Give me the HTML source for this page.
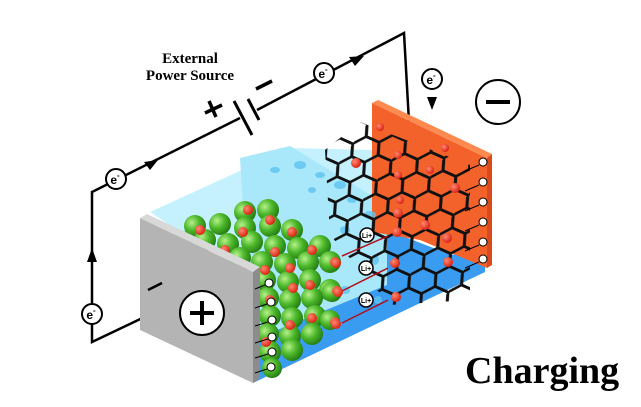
<!DOCTYPE html>
<html><head><meta charset="utf-8"><style>
html,body{margin:0;padding:0;background:#fff;width:641px;height:407px;overflow:hidden}
svg{display:block}
</style></head><body>
<svg width="641" height="407" viewBox="0 0 641 407" xmlns="http://www.w3.org/2000/svg">
<defs>
<radialGradient id="g" cx="0.35" cy="0.35" r="0.7"><stop offset="0" stop-color="#b6f08a"/><stop offset="0.5" stop-color="#4cb82a"/><stop offset="1" stop-color="#237a12"/></radialGradient>
<radialGradient id="r" cx="0.35" cy="0.35" r="0.7"><stop offset="0" stop-color="#ff8a70"/><stop offset="1" stop-color="#d81d10"/></radialGradient>
<pattern id="hex" width="42" height="24.2" patternUnits="userSpaceOnUse" patternTransform="rotate(24) skewX(-12)">
<path d="M0,12.1 L7,0 L21,0 L28,12.1 L21,24.2 L7,24.2 Z M28,12.1 L42,12.1" fill="none" stroke="#111" stroke-width="2.8"/>
</pattern>
<clipPath id="hc"><polygon points="325,150 360,122 470,165 470,300 390,305 330,235"/></clipPath>
</defs>

<!-- circuit -->
<g stroke="#000" stroke-width="2.5" fill="none">
<polyline points="155,312 92,342 92,192 240,118"/>
<polyline points="257,110 404,33 410,140"/>
</g>
<polygon points="92,248 87,262 97,262" fill="#000"/>
<polygon points="158,160 144,162 150,170" fill="#000"/>
<polygon points="364,56 349,57 355,66" fill="#000"/>
<polygon points="427,97 437,97 432,110" fill="#000"/>
<!-- battery -->
<line x1="234" y1="101" x2="252" y2="135" stroke="#000" stroke-width="3"/>
<line x1="248" y1="99" x2="259" y2="120" stroke="#000" stroke-width="3"/>
<line x1="205" y1="113" x2="222" y2="105" stroke="#000" stroke-width="3.5"/>
<line x1="209" y1="101" x2="216" y2="117" stroke="#000" stroke-width="3.5"/>
<line x1="256" y1="89" x2="272" y2="81" stroke="#000" stroke-width="3.5"/>
<text x="190" y="63" font-family="Liberation Serif,serif" font-weight="bold" font-size="15" text-anchor="middle">External</text>
<text x="190" y="80" font-family="Liberation Serif,serif" font-weight="bold" font-size="15" text-anchor="middle">Power Source</text>
<g font-family="Liberation Sans,sans-serif" font-weight="bold" font-size="12" text-anchor="middle">
<circle cx="116" cy="179" r="10" fill="#fff" stroke="#000" stroke-width="2"/><text x="115" y="184">e<tspan font-size="8" dy="-6">-</tspan></text>
<circle cx="324" cy="73" r="10" fill="#fff" stroke="#000" stroke-width="2"/><text x="323" y="78">e<tspan font-size="8" dy="-6">-</tspan></text>
<circle cx="432" cy="79" r="10" fill="#fff" stroke="#000" stroke-width="2"/><text x="431" y="84">e<tspan font-size="8" dy="-6">-</tspan></text>
<circle cx="92" cy="314" r="10" fill="#fff" stroke="#000" stroke-width="2"/><text x="91" y="319">e<tspan font-size="8" dy="-6">-</tspan></text>
</g>
<circle cx="498" cy="102" r="22" fill="#fff" stroke="#000" stroke-width="2"/>
<rect x="486" y="100" width="24" height="4" fill="#000"/>

<!-- cell body -->
<polygon points="150,212 290,148 372,150 372,232 253,280" fill="#c4f1fd"/>
<polygon points="240,158 290,146 387,205 387,315 253,375" fill="#a9e7fa"/>
<polygon points="253,383 253,340 387,285 485,240 485,272" fill="#3a9cf0"/>
<polygon points="387,230 485,268 485,272 387,315" fill="#3a9cf0"/>
<polygon points="372,103 487,158 487,268 420,240 372,232" fill="#f4622b"/>
<polygon points="372,103 378,100 492,154 487,158" fill="#ff8a50"/>
<polygon points="487,158 492,154 492,265 487,268" fill="#d94a1c"/>
<!-- separator bubbles -->
<g fill="#5fc3ef" opacity="0.8">
<ellipse cx="300" cy="165" rx="6" ry="4"/><ellipse cx="320" cy="175" rx="5" ry="3"/><ellipse cx="340" cy="185" rx="6" ry="4"/>
<ellipse cx="352" cy="200" rx="5" ry="3"/><ellipse cx="312" cy="190" rx="4" ry="3"/><ellipse cx="370" cy="215" rx="6" ry="4"/>
<ellipse cx="345" cy="230" rx="5" ry="4"/><ellipse cx="375" cy="260" rx="4" ry="5"/><ellipse cx="345" cy="290" rx="5" ry="4"/>
<ellipse cx="378" cy="300" rx="4" ry="4"/><ellipse cx="335" cy="320" rx="4" ry="3"/><ellipse cx="275" cy="170" rx="5" ry="3"/>
</g>
<!-- graphite -->
<rect x="320" y="120" width="155" height="190" fill="url(#hex)" clip-path="url(#hc)"/>
<g fill="url(#r)">
<circle cx="356" cy="163" r="5"/><circle cx="398" cy="155" r="4"/><circle cx="398" cy="175" r="4"/><circle cx="400" cy="200" r="4"/>
<circle cx="398" cy="213" r="5"/><circle cx="397" cy="232" r="5"/><circle cx="425" cy="225" r="5"/><circle cx="455" cy="188" r="5"/>
<circle cx="447" cy="238" r="5"/><circle cx="448" cy="262" r="5"/><circle cx="395" cy="263" r="5"/><circle cx="396" cy="297" r="5"/>
<circle cx="430" cy="170" r="4"/><circle cx="445" cy="148" r="4"/><circle cx="380" cy="127" r="4"/>
</g>
<!-- green balls -->
<g fill="url(#g)">
<circle cx="245" cy="212" r="11"/><circle cx="268" cy="210" r="11"/>
<circle cx="195" cy="226" r="11"/><circle cx="220" cy="224" r="11"/><circle cx="245" cy="228" r="11"/><circle cx="270" cy="226" r="11"/><circle cx="292" cy="230" r="11"/>
<circle cx="160" cy="240" r="11"/><circle cx="182" cy="242" r="11"/><circle cx="205" cy="240" r="11"/><circle cx="228" cy="244" r="11"/><circle cx="252" cy="242" r="11"/><circle cx="275" cy="246" r="11"/><circle cx="298" cy="248" r="11"/><circle cx="320" cy="246" r="11"/>
<circle cx="240" cy="258" r="11"/><circle cx="262" cy="262" r="11"/><circle cx="285" cy="264" r="11"/><circle cx="308" cy="262" r="11"/><circle cx="330" cy="262" r="11"/>
<circle cx="265" cy="280" r="11"/><circle cx="288" cy="282" r="11"/><circle cx="310" cy="280" r="11"/><circle cx="330" cy="290" r="11"/>
<circle cx="268" cy="298" r="11"/><circle cx="290" cy="300" r="11"/><circle cx="312" cy="298" r="11"/><circle cx="332" cy="292" r="10"/>
<circle cx="270" cy="316" r="11"/><circle cx="292" cy="318" r="11"/><circle cx="315" cy="316" r="11"/><circle cx="330" cy="320" r="10"/>
<circle cx="268" cy="334" r="11"/><circle cx="290" cy="336" r="11"/><circle cx="312" cy="334" r="11"/>
<circle cx="270" cy="352" r="11"/><circle cx="292" cy="350" r="11"/><circle cx="272" cy="368" r="10"/>
</g>
<g fill="url(#r)">
<circle cx="248" cy="210" r="5"/><circle cx="270" cy="220" r="5"/><circle cx="200" cy="230" r="5"/><circle cx="243" cy="232" r="5"/>
<circle cx="292" cy="232" r="5"/><circle cx="312" cy="250" r="5"/><circle cx="225" cy="250" r="5"/><circle cx="275" cy="252" r="5"/>
<circle cx="245" cy="265" r="5"/><circle cx="265" cy="270" r="5"/><circle cx="290" cy="268" r="5"/><circle cx="335" cy="262" r="5"/>
<circle cx="310" cy="285" r="5"/><circle cx="293" cy="288" r="5"/><circle cx="337" cy="291" r="5"/><circle cx="312" cy="318" r="5"/>
<circle cx="290" cy="325" r="5"/><circle cx="335" cy="322" r="5"/><circle cx="266" cy="342" r="5"/><circle cx="270" cy="300" r="5"/>
</g>
<!-- Li+ arrows -->
<g stroke="#b0101a" stroke-width="1.5" fill="#b0101a">
<line x1="342" y1="256" x2="388" y2="236"/><line x1="340" y1="292" x2="388" y2="268"/><line x1="342" y1="323" x2="388" y2="300"/>
</g>
<g fill="url(#r)"><circle cx="336" cy="263" r="5"/><circle cx="338" cy="292" r="5"/><circle cx="336" cy="324" r="5"/></g>
<g font-family="Liberation Sans,sans-serif" font-weight="bold" font-size="7" text-anchor="middle">
<circle cx="367" cy="235" r="7" fill="#fff" stroke="#000" stroke-width="1.5"/><text x="367" y="238">Li+</text>
<circle cx="366" cy="268" r="7" fill="#fff" stroke="#000" stroke-width="1.5"/><text x="366" y="271">Li+</text>
<circle cx="366" cy="300" r="7" fill="#fff" stroke="#000" stroke-width="1.5"/><text x="366" y="303">Li+</text>
</g>
<!-- gray plate -->
<polygon points="140,218 253,272 253,383 140,330" fill="#b4b4b4"/>
<polygon points="140,218 147,214 260,267 253,272" fill="#d8d8d8"/>
<polygon points="253,272 260,267 260,378 253,383" fill="#8c8c8c"/>
<line x1="148" y1="290" x2="162" y2="283" stroke="#000" stroke-width="2.5"/>
<circle cx="202" cy="313" r="22" fill="#fff" stroke="#000" stroke-width="2"/>
<rect x="190" y="311" width="24" height="4" fill="#000"/><rect x="200" y="301" width="4" height="24" fill="#000"/>
<!-- small e- on plate edges -->
<g stroke="#000" stroke-width="1" fill="#fff">
<circle cx="269" cy="283" r="4"/><circle cx="271" cy="302" r="4"/><circle cx="272" cy="320" r="4"/><circle cx="272" cy="337" r="4"/><circle cx="272" cy="352" r="4"/><circle cx="271" cy="367" r="4"/>
<circle cx="483" cy="162" r="4"/><circle cx="483" cy="182" r="4"/><circle cx="483" cy="202" r="4"/><circle cx="483" cy="222" r="4"/><circle cx="483" cy="242" r="4"/><circle cx="483" cy="259" r="4"/>
</g>
<g stroke="#000" stroke-width="1">
<line x1="265" y1="285" x2="255" y2="289"/><line x1="267" y1="304" x2="255" y2="308"/><line x1="268" y1="322" x2="255" y2="326"/><line x1="268" y1="339" x2="255" y2="343"/><line x1="268" y1="354" x2="255" y2="358"/><line x1="267" y1="369" x2="255" y2="373"/>
<line x1="479" y1="165" x2="465" y2="171"/><line x1="479" y1="185" x2="465" y2="191"/><line x1="479" y1="205" x2="465" y2="211"/><line x1="479" y1="225" x2="465" y2="231"/><line x1="479" y1="245" x2="465" y2="251"/><line x1="479" y1="262" x2="465" y2="268"/>
</g>
<text x="465" y="383" font-family="Liberation Serif,serif" font-weight="bold" font-size="38">Charging</text>
</svg>
</body></html>
